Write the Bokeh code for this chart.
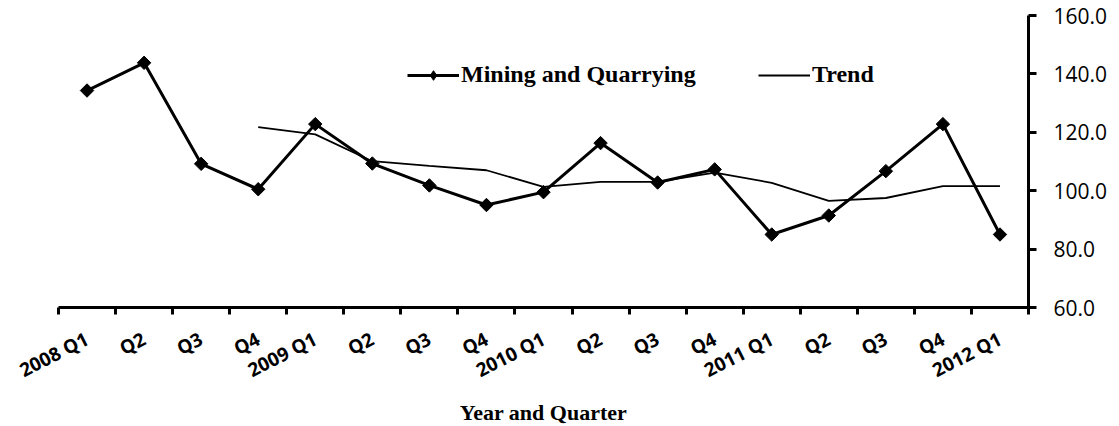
import math
import numpy as np
from bokeh.plotting import figure
from bokeh.models import Range1d, FixedTicker, NumeralTickFormatter, Legend, LegendItem
from bokeh.embed import file_html
from bokeh.resources import INLINE

quarters = ["2008 Q1", "Q2", "Q3", "Q4",
            "2009 Q1", "Q2", "Q3", "Q4",
            "2010 Q1", "Q2", "Q3", "Q4",
            "2011 Q1", "Q2", "Q3", "Q4",
            "2012 Q1"]
mining = [134.3, 143.8, 109.2, 100.5, 122.8, 109.3, 101.8, 95.1, 99.5,
          116.3, 102.8, 107.3, 85.0, 91.5, 106.7, 122.8, 85.0]
trend = [np.nan, np.nan, np.nan, 121.8, 119.3, 110.1, 108.5, 107.0, 101.3,
         103.0, 103.0, 106.2, 102.7, 96.5, 97.5, 101.6, 101.6]
y_ticks = [60, 80, 100, 120, 140, 160]

xs = list(range(len(quarters)))
boundaries = [i - 0.5 for i in range(len(quarters) + 1)]

p = figure(frame_width=970, frame_height=292,
           x_range=Range1d(-0.5, len(quarters) - 0.5), y_range=Range1d(60, 160),
           y_axis_location="right", output_backend="svg", toolbar_location=None,
           min_border_left=58, min_border_right=91, min_border_top=15, min_border_bottom=119)
p.outline_line_color = None
p.xgrid.grid_line_color = None
p.ygrid.grid_line_color = None

trend_r = p.line(xs, trend, line_color="black", line_width=1.8)
line_r = p.line(xs, mining, line_color="black", line_width=3)
pts_r = p.scatter(xs, mining, marker="square", angle=math.pi / 4, size=9.5,
                  fill_color="black", line_color="black")
# legend-only diamond (NaN value: nothing drawn in the plot area)
legend_marker = p.scatter(xs[:1], [np.nan], marker="diamond", size=12,
                          fill_color="black", line_color="black")

xa = p.xaxis[0]
xa.ticker = FixedTicker(ticks=xs, minor_ticks=boundaries)
xa.major_label_overrides = {i: q for i, q in zip(xs, quarters)}
xa.major_tick_line_color = None
xa.major_tick_out = 0
xa.major_tick_in = 0
xa.minor_tick_line_color = "black"
xa.minor_tick_line_width = 3
xa.minor_tick_out = 7
xa.minor_tick_in = 0
xa.axis_line_width = 3
xa.axis_line_color = "black"
xa.major_label_orientation = math.radians(27)
xa.major_label_text_font = "Open Sans"
xa.major_label_text_font_style = "bold"
xa.major_label_text_font_size = "19px"
xa.major_label_text_color = "black"
xa.major_label_standoff = 23
xa.axis_label = "Year and Quarter"
xa.axis_label_text_font = "Liberation Serif"
xa.axis_label_text_font_style = "bold"
xa.axis_label_text_font_size = "22px"
xa.axis_label_text_color = "black"
xa.axis_label_standoff = 3

ya = p.yaxis[0]
ya.ticker = FixedTicker(ticks=y_ticks)
ya.formatter = NumeralTickFormatter(format="0.0")
ya.axis_line_width = 3
ya.axis_line_color = "black"
ya.major_tick_line_width = 3
ya.major_tick_out = 8
ya.major_tick_in = 0
ya.minor_tick_line_color = None
ya.major_label_text_font = "Open Sans"
ya.major_label_text_font_size = "21px"
ya.major_label_text_color = "black"
ya.major_label_standoff = 17

def make_legend(label, renderers, loc):
    return Legend(items=[LegendItem(label=label, renderers=renderers)],
                  location=loc, orientation="horizontal",
                  glyph_width=52, glyph_height=24, label_height=24,
                  label_standoff=2, padding=0, margin=0,
                  border_line_alpha=0, background_fill_alpha=0,
                  label_text_font="Liberation Serif", label_text_font_style="bold",
                  label_text_font_size="24px", label_text_color="black")

p.add_layout(make_legend("Mining and Quarrying", [line_r, legend_marker], (349, 219)))
p.add_layout(make_legend("Trend", [trend_r], (700, 219)))

open("out.html", "w").write(file_html(p, INLINE))
